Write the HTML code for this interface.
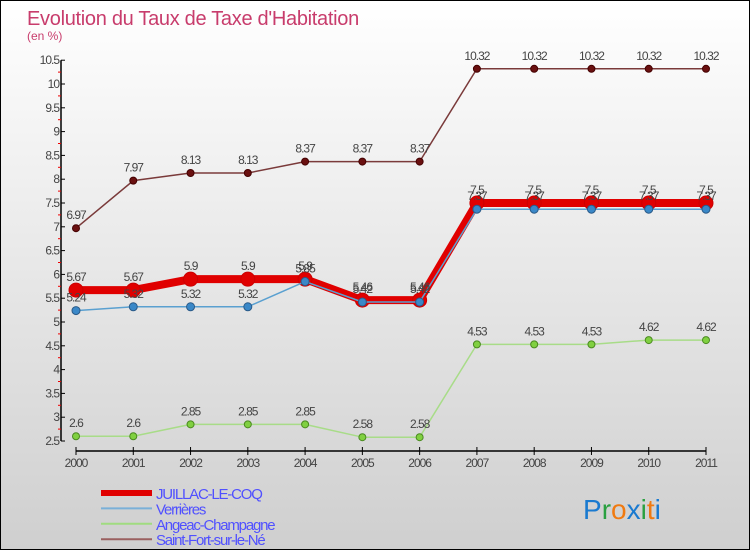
<!DOCTYPE html>
<html><head><meta charset="utf-8"><style>
body{margin:0;}
#c{width:750px;height:550px;position:relative;overflow:hidden;box-sizing:border-box;border:1px solid #000;background:linear-gradient(#ffffff,#cfcfcf);font-family:"Liberation Sans",sans-serif;}
svg{position:absolute;left:0;top:0;}
</style></head><body>
<div id="c">
<svg id="s" width="750" height="550">
<text x="26" y="24" font-size="20" fill="#c83c6c" letter-spacing="-0.3">Evolution du Taux de Taxe d'Habitation</text>
<text x="26" y="39" font-size="12" fill="#c83c6c">(en %)</text>
</svg>
</div>
<script>
const years=["2000","2001","2002","2003","2004","2005","2006","2007","2008","2009","2010","2011"];
const yTicks=[2.5,3,3.5,4,4.5,5,5.5,6,6.5,7,7.5,8,8.5,9,9.5,10,10.5];
const juillac=[5.67,5.67,5.9,5.9,5.9,5.46,5.46,7.5,7.5,7.5,7.5,7.5];
const verrieres=[5.24,5.32,5.32,5.32,5.85,5.42,5.42,7.37,7.37,7.37,7.37,7.37];
const angeac=[2.6,2.6,2.85,2.85,2.85,2.58,2.58,4.53,4.53,4.53,4.62,4.62];
const saintfort=[6.97,7.97,8.13,8.13,8.37,8.37,8.37,10.32,10.32,10.32,10.32,10.32];
const NS="http://www.w3.org/2000/svg";
const s=document.getElementById('s');
const X=i=>75+i*(630/11);
const Y=v=>440-(v-2.5)*47.6;
function el(t,a,p){const e=document.createElementNS(NS,t);for(const k in a)e.setAttribute(k,a[k]);(p||s).appendChild(e);return e;}
let ax=el('line',{x1:60,y1:Y(10.5),x2:60,y2:Y(2.5),stroke:'#000','stroke-width':1.5});


yTicks.forEach((v,k)=>{
 const t=el('line',{x1:60,y1:Y(v),x2:64,y2:Y(v),stroke:'#000'});
 
 
 if(k<yTicks.length-1){
 const m=el('line',{x1:57,y1:Y(v+0.25),x2:60,y2:Y(v+0.25),stroke:'#e00'});
 
 
 }
 const tx=el('text',{x:58,y:Y(v)+4,'font-size':12,'text-anchor':'end',fill:'#444','letter-spacing':'-1'});
 tx.textContent=String(v);
 
 
});
let xa=el('line',{x1:75,y1:450,x2:705,y2:450,stroke:'#000','stroke-width':1.5});


years.forEach((y,i)=>{
 const t=el('line',{x1:X(i),y1:446,x2:X(i),y2:454,stroke:'#000'});
 
 
 const tx=el('text',{x:X(i),y:466,'font-size':12,'text-anchor':'middle',fill:'#444','letter-spacing':'-1'});
 tx.textContent=y;
 
 
});
function series(d,name,color,w,r,fill,stroke){
 const g=el('g',{});
 
 
 const p=el('polyline',{points:d.map((v,i)=>X(i)+','+Y(v)).join(' '),fill:'none',stroke:color,'stroke-width':w,'stroke-linejoin':'round'},g);
 
 
 d.forEach((v,i)=>{
  const c=el('circle',{cx:X(i),cy:Y(v),r:r,fill:fill,stroke:stroke,'stroke-width':1},g);
  
  
  const t=el('text',{x:X(i),y:Y(v)-9,'font-size':12,'text-anchor':'middle',fill:'#444','letter-spacing':'-1'},g);
  t.textContent=String(v);
  
  
 });
}
series(saintfort,'saint-fort','#7a3a3a',1.5,3.5,'#6a1010','#400');
series(angeac,'angeac','#a8dc88',1.5,3.5,'#80d040','#4a8a20');
series(juillac,'juillac','#e00000',8,7,'#e00000','#c00');
series(verrieres,'verrieres','#5aa0d0',1.5,4,'#3a88c8','#2a5a88');
const leg=[['JUILLAC-LE-COQ','#e00000',6],['Verrières','#7ab0d8',2],['Angeac-Champagne','#a0dc80',2],['Saint-Fort-sur-le-Né','#9a6060',2]];
leg.forEach((l,i)=>{
 const y=492+i*15.4;
 const ln=el('line',{x1:100,y1:y,x2:151,y2:y,stroke:l[1],'stroke-width':l[2]});
 
 
 const t=el('text',{x:155,y:y+6,'font-size':15,fill:'#5050ff','letter-spacing':'-1.2'});
 t.textContent=l[0];
 
 
});
const logo=el('text',{x:582,y:518,'font-size':28,'font-family':'Liberation Sans'});


[['P','#1a7ad0'],['r','#2aa040'],['o','#f07a10'],['x','#1a7ad0'],['i','#2aa040'],['t','#f07a10'],['i','#1a7ad0']].forEach(c=>{const sp=el('tspan',{fill:c[1]},logo);sp.textContent=c[0];});
</script>
</body></html>
